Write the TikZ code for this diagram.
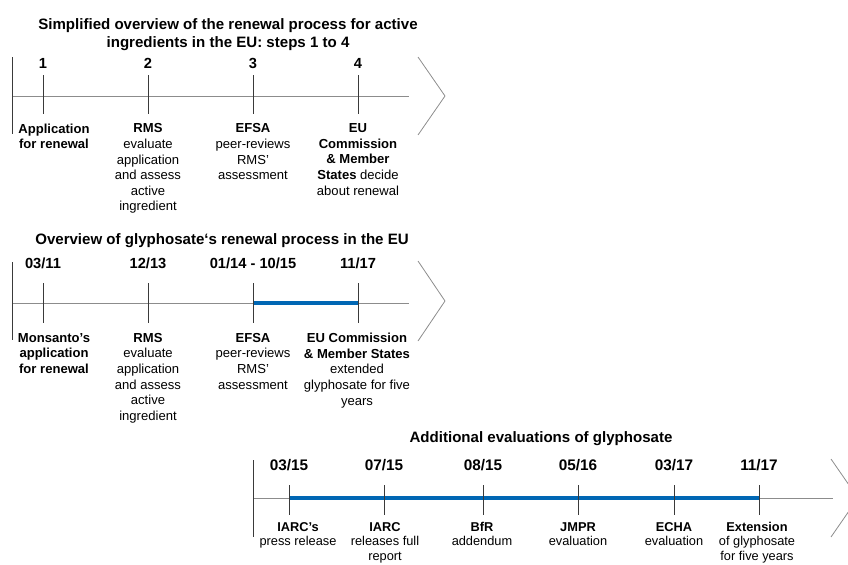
\documentclass[tikz,border=0pt]{standalone}
\usepackage{fontspec}
\setmainfont{Liberation Sans}
\usetikzlibrary{calc}
\definecolor{linegray}{HTML}{8C8C8C}
\definecolor{tickgray}{HTML}{3A3A3A}
\definecolor{barblue}{HTML}{0067B4}
\tikzset{
  ttl/.style={font=\bfseries\fontsize{11.3}{13.5}\selectfont, align=center, anchor=north, inner sep=0pt},
  datum/.style={font=\bfseries\fontsize{11}{13}\selectfont, inner sep=0pt},
  datumlg/.style={font=\bfseries\fontsize{11.5}{13}\selectfont, inner sep=0pt},
  lbl/.style={font=\fontsize{9.8}{11.7}\selectfont, align=center, anchor=north, inner sep=0pt},
  lblsm/.style={font=\fontsize{9.6}{10.8}\selectfont, align=center, anchor=north, inner sep=0pt},
  timeline/.style={draw=linegray, line width=0.75pt},
  tickline/.style={draw=tickgray, line width=0.75pt},
  chevron/.style={draw=linegray, line width=0.6pt},
  bluebar/.style={draw=barblue, line width=2.5pt}
}
\begin{document}
\begin{tikzpicture}[x=0.75pt, y=-0.75pt]
% 0. 画布大小
\useasboundingbox (0, 0) rectangle (848, 564);
\clip (0, 0) rectangle (848, 564);

% 1. 标记重要的点
\coordinate (Astart) at (12, 96);
\coordinate (Aend) at (409, 96);
\coordinate (Bstart) at (12, 303);
\coordinate (Bend) at (409, 303);
\coordinate (Cstart) at (253, 498);
\coordinate (Cend) at (833, 498);

% 2. 三个标题
\node[ttl] (titleA) at (228, 18.5) {Simplified overview of the renewal process for active\\ingredients in the EU: steps 1 to 4};
\node[ttl] (titleB) at (222, 233.5) {Overview of glyphosate‘s renewal process in the EU};
\node[ttl] (titleC) at (541, 431.5) {Additional evaluations of glyphosate};

% 3. 第一条时间轴: 步骤 1 到 4
\draw[timeline] (Astart) -- (Aend);
\draw[tickline] (12, 57) -- (12, 134);
\draw[chevron] (418, 57) -- (445, 96) -- (418, 135);
\foreach \loc/\x in
    {43/1, 148/2, 253/3, 358/4}
    {\draw[tickline] (\loc, 75) -- (\loc, 114);
     \node[datum] (stepA\x) at (\loc, 63) {\x};
    }
\node[lbl] (labA1) at (54, 123.5) {\textbf{Application}\\\textbf{for renewal}};
\node[lbl] (labA2) at (148, 123.5) {\textbf{RMS}\\evaluate\\application\\and assess\\active\\ingredient};
\node[lbl] (labA3) at (253, 123.5) {\textbf{EFSA}\\peer-reviews\\RMS’\\assessment};
\node[lbl] (labA4) at (358, 123.5) {\textbf{EU}\\\textbf{Commission}\\\textbf{\& Member}\\\textbf{States} decide\\about renewal};

% 4. 第二条时间轴: 草甘膦
\draw[timeline] (Bstart) -- (Bend);
\draw[tickline] (12, 262) -- (12, 340);
\draw[chevron] (418, 261) -- (445, 301) -- (418, 341);
\foreach \loc/\d [count=\i] in
    {43/{03/11}, 148/{12/13}, 253/{01/14 - 10/15}, 358/{11/17}}
    {\coordinate (tB\i) at (\loc, 303);
     \node[datum] (dateB\i) at (\loc, 263) {\d};
    }
\draw[bluebar] (tB3) -- (tB4);
\foreach \i in {1, 2, 3, 4}
    {\draw[tickline] ($(tB\i)+(0, -20)$) -- ($(tB\i)+(0, 20)$);
    }
\node[lbl] (labB1) at (54, 333) {\textbf{Monsanto’s}\\\textbf{application}\\\textbf{for renewal}};
\node[lbl] (labB2) at (148, 333) {\textbf{RMS}\\evaluate\\application\\and assess\\active\\ingredient};
\node[lbl] (labB3) at (253, 333) {\textbf{EFSA}\\peer-reviews\\RMS’\\assessment};
\node[lbl] (labB4) at (357, 333) {\textbf{EU Commission}\\\textbf{\& Member States}\\extended\\glyphosate for five\\years};

% 5. 第三条时间轴: 其他评估
\draw[timeline] (Cstart) -- (Cend);
\draw[tickline] (253, 460) -- (253, 537);
\draw[chevron] (831, 459) -- (858, 498) -- (831, 537);
\foreach \loc/\d [count=\i] in
    {289/{03/15}, 384/{07/15}, 483/{08/15}, 578/{05/16}, 674/{03/17}, 759/{11/17}}
    {\coordinate (tC\i) at (\loc, 498);
     \node[datumlg] (dateC\i) at (\loc, 465) {\d};
    }
\draw[bluebar] (tC1) -- (tC6);
\foreach \i in {1, 2, 3, 4, 5, 6}
    {\draw[tickline] ($(tC\i)+(0, -13)$) -- ($(tC\i)+(0, 17)$);
    }
\node[lblsm] (labC1) at (298, 522) {\textbf{IARC’s}\\press release};
\node[lblsm] (labC2) at (385, 522) {\textbf{IARC}\\releases full\\report};
\node[lblsm] (labC3) at (482, 522) {\textbf{BfR}\\addendum};
\node[lblsm] (labC4) at (578, 522) {\textbf{JMPR}\\evaluation};
\node[lblsm] (labC5) at (674, 522) {\textbf{ECHA}\\evaluation};
\node[lblsm] (labC6) at (757, 522) {\textbf{Extension}\\of glyphosate\\for five years};
\end{tikzpicture}
\end{document}
